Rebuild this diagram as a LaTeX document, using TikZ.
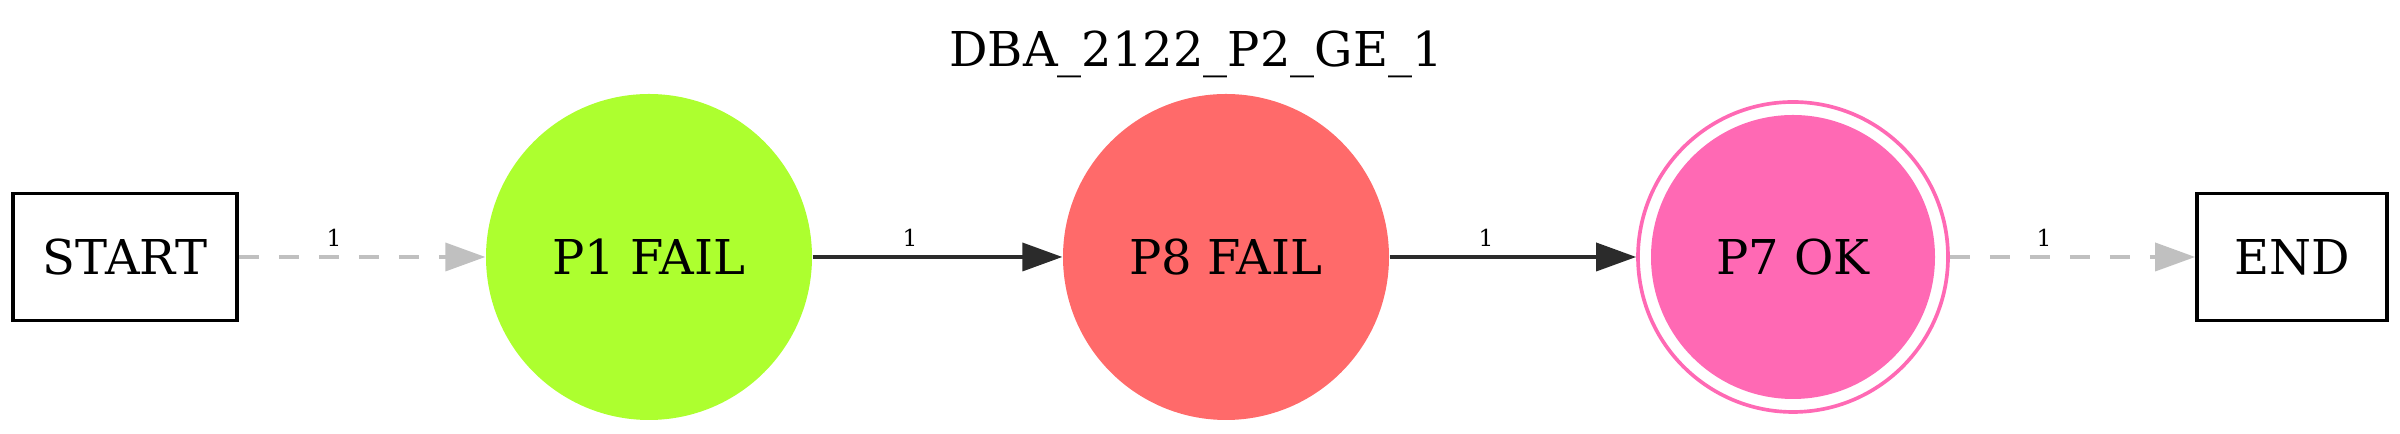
\documentclass[tikz,border=0pt]{standalone}
\usepackage{fontspec}
\setmainfont{DejaVu Serif}
\usetikzlibrary{arrows.meta}
\definecolor{edgegray}{HTML}{C0C0C0}
\definecolor{edgedark}{HTML}{2B2B2B}
\definecolor{pgreen}{HTML}{ADFF2F}
\definecolor{pred}{HTML}{FF6A6A}
\definecolor{ppink}{HTML}{FF69B4}
\tikzset{
  nodefont/.style={font=\fontsize{14.4}{17}\selectfont},
  box/.style={draw=black, line width=1.1pt, minimum height=38.1pt, inner sep=0pt, nodefont},
  state/.style={circle, inner sep=0pt, minimum size=97.8pt, nodefont},
  elabel/.style={anchor=base, font=\fontsize{7}{8}\selectfont},
  solidedge/.style={draw=edgedark, line width=1.1pt, -{Triangle[length=12pt,width=8.4pt]}},
  dashedge/.style={draw=edgegray, line width=1.1pt, dash pattern=on 6pt off 6pt, -{Triangle[length=12pt,width=8.4pt]}},
}
\begin{document}
\begin{tikzpicture}[x=0.3pt, y=-0.3pt]
\useasboundingbox (0,0) rectangle (2400,434);
\node[anchor=base, nodefont] (title) at (1196,67) {DBA\_2122\_P2\_GE\_1};
\node[box, minimum width=67.2pt] (start) at (125,257) {START};
\node[state, fill=pgreen] (p1) at (649,257) {P1 FAIL};
\node[state, fill=pred] (p8) at (1226,257) {P8 FAIL};
\node[circle, inner sep=0pt, minimum size=85.2pt, fill=ppink] (p7in) at (1793,257) {};
\node[circle, inner sep=0pt, minimum size=93pt, draw=ppink, line width=1.1pt, nodefont] (p7) at (1793,257) {P7 OK};
\node[box, minimum width=57pt] (end) at (2292,257) {END};
\draw[dashedge] (start) -- (p1);
\draw[solidedge] (p1) -- (p8);
\draw[solidedge] (p8) -- (p7);
\draw[dashedge] (p7) -- (end);
\node[elabel] (l1) at (334,247) {1};
\node[elabel] (l2) at (910,247) {1};
\node[elabel] (l3) at (1486,247) {1};
\node[elabel] (l4) at (2044,247) {1};
\end{tikzpicture}
\end{document}
